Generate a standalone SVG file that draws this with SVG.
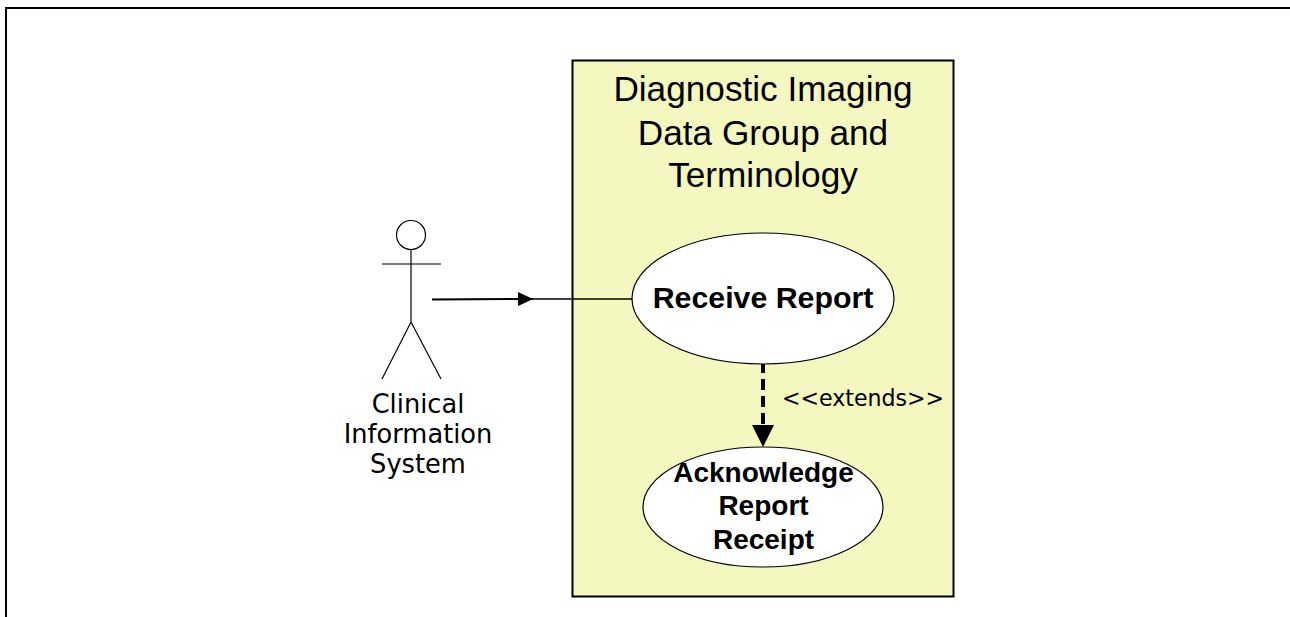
<svg xmlns="http://www.w3.org/2000/svg" width="1290" height="617" viewBox="0 0 1290 617">
<style>
.a{font-family:"DejaVu Sans",sans-serif;fill:#000}
.b{font-family:"Liberation Sans",Arial,sans-serif;fill:#000}
.t{font-size:35.200px;text-anchor:middle}
.l{font-size:25.700px;text-anchor:middle}
.r{font-weight:700;font-size:30.300px;text-anchor:middle}
.k{font-weight:700;font-size:28px;text-anchor:middle}
.s{fill:none;stroke:#000}
</style>
<defs>
<marker id="m1" markerUnits="userSpaceOnUse" markerWidth="15" markerHeight="14" refX="15" refY="7" orient="auto"><path d="M0 0L15 7L0 14Z" fill="#000"/></marker>
<marker id="m2" markerUnits="userSpaceOnUse" markerWidth="22" markerHeight="22" refX="22" refY="11" orient="auto"><path d="M0 0L22 11L0 22Z" fill="#000"/></marker>
</defs>
<rect width="1290" height="617" fill="#fff"/>
<path class="s" stroke-width="2" d="M6 617V8H1290"/>
<g id="system"><rect x="572.500" y="60.500" width="381" height="536" fill="#f5f7c1" stroke="#000" stroke-width="2"/>
<text class="b t" x="763" y="101">Diagnostic Imaging</text>
<text class="b t" x="763" y="145">Data Group and</text>
<text class="b t" x="763" y="187">Terminology</text></g>
<g id="actor"><circle cx="411" cy="235" r="14.500" fill="#fff" stroke="#000" stroke-width="1.200"/>
<path class="s" stroke-width="1.200" d="M411 250V322M382 264H441M382 379L411 322L441 379"/>
<text class="a l" x="418" y="413">Clinical</text>
<text class="a l" x="418" y="443">Information</text>
<text class="a l" x="418" y="473">System</text></g>
<g id="connectors">
<path class="s" stroke-width="2" d="M432 299.500L533 299" marker-end="url(#m1)"/>
<path class="s" stroke-width="1.500" d="M530 299H633"/>
<path class="s" stroke-width="4" stroke-dasharray="11 6" d="M763 362V447" marker-end="url(#m2)"/>
<text class="a" font-size="22.100" x="782" y="406">&lt;&lt;extends&gt;&gt;</text></g>
<g id="receive"><ellipse cx="763" cy="298.500" rx="131" ry="65.500" fill="#fff" stroke="#000" stroke-width="1.200"/>
<text class="b r" x="763" y="308">Receive Report</text></g>
<g id="ack"><ellipse cx="763" cy="507" rx="120" ry="60" fill="#fff" stroke="#000" stroke-width="1.200"/>
<text class="b k" x="763.500" y="482">Acknowledge</text>
<text class="b k" x="763.500" y="515">Report</text>
<text class="b k" x="763.500" y="549">Receipt</text></g>
</svg>
